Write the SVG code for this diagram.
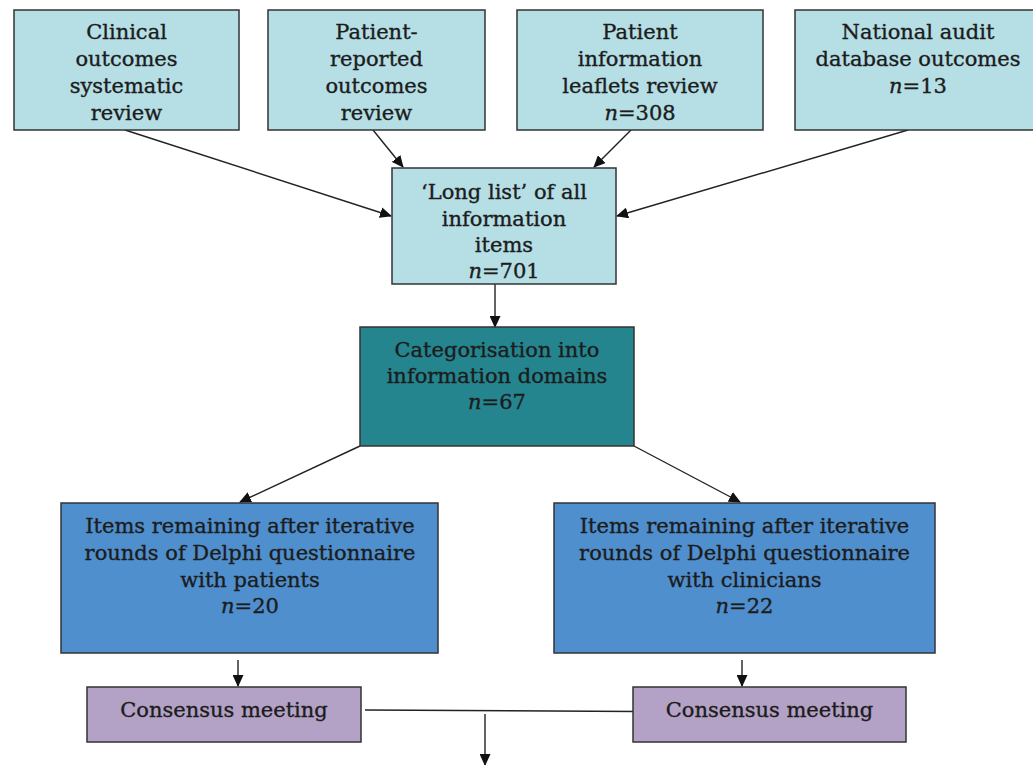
<svg xmlns="http://www.w3.org/2000/svg" width="1033" height="765" viewBox="0 0 1033 765">
<defs>
<marker id="ah" markerWidth="12" markerHeight="11" refX="11" refY="5.5" orient="auto" markerUnits="userSpaceOnUse">
<path d="M0,0 L12,5.5 L0,11 Z" fill="#111"/>
</marker>
<style>
.box{stroke:#333;stroke-width:1.5}
.lb{fill:#B5DEE5}
.tl{fill:#24858F}
.bl{fill:#4F8FCE}
.pu{fill:#B3A2C6}
text{font-family:"DejaVu Serif","Liberation Serif",serif;font-size:21px;fill:#1c1c1c;stroke:#1c1c1c;stroke-width:0.35;text-anchor:middle}
.i{font-style:italic}
.c{stroke:#222;stroke-width:1.4;fill:none}
</style>
</defs>
<rect width="1033" height="765" fill="#fff"/>
<g id="connectors">
<line class="c" x1="125" y1="130" x2="391" y2="216" marker-end="url(#ah)"/>
<line class="c" x1="373" y1="130" x2="403" y2="167" marker-end="url(#ah)"/>
<line class="c" x1="631" y1="130" x2="594" y2="167" marker-end="url(#ah)"/>
<line class="c" x1="908" y1="130" x2="617" y2="216" marker-end="url(#ah)"/>
<line class="c" x1="495" y1="284" x2="495" y2="327" marker-end="url(#ah)"/>
<line class="c" x1="360" y1="446" x2="240" y2="502" marker-end="url(#ah)"/>
<line class="c" x1="634" y1="446" x2="740" y2="502" marker-end="url(#ah)"/>
<line class="c" x1="238" y1="660" x2="238" y2="686" marker-end="url(#ah)"/>
<line class="c" x1="742" y1="660" x2="742" y2="686" marker-end="url(#ah)"/>
<line class="c" x1="365" y1="710" x2="636" y2="711.5"/>
<line class="c" x1="485" y1="714" x2="485" y2="765" stroke="#666" stroke-width="2" marker-end="url(#ah)"/>
</g>
<g id="n1"><rect class="box lb" x="14" y="10" width="225" height="120"/>
<text x="126.5" y="39">Clinical</text><text x="126.5" y="66">outcomes</text><text x="126.5" y="93">systematic</text><text x="126.5" y="120">review</text></g>
<g id="n2"><rect class="box lb" x="268" y="10" width="217" height="120"/>
<text x="376.5" y="39">Patient-</text><text x="376.5" y="66">reported</text><text x="376.5" y="93">outcomes</text><text x="376.5" y="120">review</text></g>
<g id="n3"><rect class="box lb" x="517" y="10" width="246" height="120"/>
<text x="640" y="39">Patient</text><text x="640" y="66">information</text><text x="640" y="93">leaflets review</text><text x="640" y="120"><tspan class="i">n</tspan>=308</text></g>
<g id="n4"><rect class="box lb" x="795" y="10" width="246" height="120"/>
<text x="918" y="39">National audit</text><text x="918" y="66">database outcomes</text><text x="918" y="93"><tspan class="i">n</tspan>=13</text></g>
<g id="n5"><rect class="box lb" x="392" y="168" width="224" height="116"/>
<text x="504" y="199">‘Long list’ of all</text><text x="504" y="226">information</text><text x="504" y="252">items</text><text x="504" y="278"><tspan class="i">n</tspan>=701</text></g>
<g id="n6"><rect class="box tl" x="360" y="327" width="274" height="119"/>
<text x="497" y="357">Categorisation into</text><text x="497" y="383">information domains</text><text x="497" y="409"><tspan class="i">n</tspan>=67</text></g>
<g id="n7"><rect class="box bl" x="61" y="503" width="377" height="150"/>
<text x="250" y="533">Items remaining after iterative</text><text x="250" y="560">rounds of Delphi questionnaire</text><text x="250" y="587">with patients</text><text x="250" y="613"><tspan class="i">n</tspan>=20</text></g>
<g id="n8"><rect class="box bl" x="554" y="503" width="381" height="150"/>
<text x="744.5" y="533">Items remaining after iterative</text><text x="744.5" y="560">rounds of Delphi questionnaire</text><text x="744.5" y="587">with clinicians</text><text x="744.5" y="613"><tspan class="i">n</tspan>=22</text></g>
<g id="n9"><rect class="box pu" x="87" y="687" width="274" height="55"/>
<text x="224" y="717">Consensus meeting</text></g>
<g id="n10"><rect class="box pu" x="633" y="687" width="273" height="55"/>
<text x="769.5" y="717">Consensus meeting</text></g>
</svg>
